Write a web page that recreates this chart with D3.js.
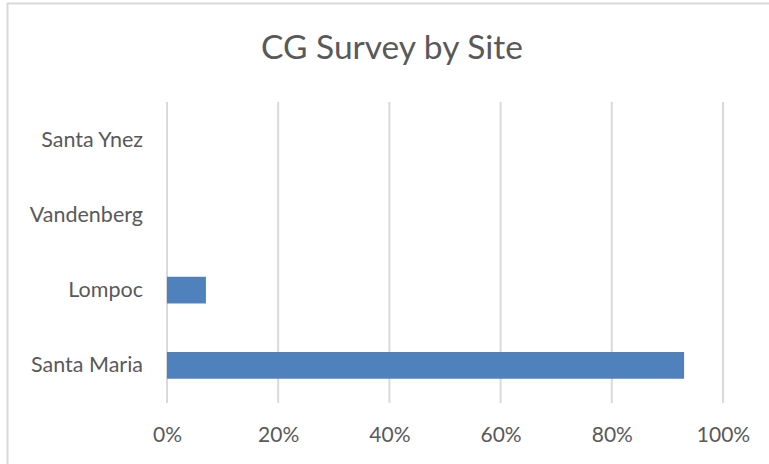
<!DOCTYPE html>
<html>
<head>
<meta charset="utf-8">
<script src="https://cdn.jsdelivr.net/npm/d3@7"></script>
<style>
  html, body { margin: 0; padding: 0; background: #fff; }
  svg { display: block; }
  text { font-family: Lato, "Open Sans", sans-serif; fill: #595959; }
</style>
</head>
<body>
<svg id="chart" width="769" height="464"></svg>
<script>
// Share of CG survey responses by site
const sites = ["Santa Ynez", "Vandenberg", "Lompoc", "Santa Maria"];
const shares = [0, 0, 0.07, 0.93];
const tickValues = [0, 0.2, 0.4, 0.6, 0.8, 1.0];
const title = "CG Survey by Site";

const svg = d3.select("#chart");
const W = 769, H = 464;
const plot = { left: 167, right: 723, top: 102, bottom: 403 };

// chart frame
svg.append("rect")
  .attr("x", 7.5).attr("y", 3.5)
  .attr("width", W + 20).attr("height", H + 20)
  .attr("fill", "#fff")
  .attr("stroke", "#d9d9d9").attr("stroke-width", 2);

svg.append("text")
  .attr("x", 392).attr("y", 59)
  .attr("text-anchor", "middle")
  .style("font-size", "33.5px")
  .text(title);

const x = d3.scaleLinear().domain([0, 1]).range([plot.left, plot.right]);
const y = d3.scaleBand().domain(sites)
  .range([plot.top, plot.bottom])
  .paddingInner(0.645).paddingOuter(0.3225);

// vertical gridlines
svg.append("g")
  .selectAll("line")
  .data(tickValues)
  .join("line")
  .attr("x1", d => x(d)).attr("x2", d => x(d))
  .attr("y1", plot.top).attr("y2", plot.bottom)
  .attr("stroke", "#d9d9d9").attr("stroke-width", 2);

// bars
svg.append("g")
  .selectAll("rect")
  .data(sites.map((s, i) => ({ site: s, v: shares[i] })))
  .join("rect")
  .attr("x", x(0))
  .attr("y", d => y(d.site))
  .attr("width", d => x(d.v) - x(0))
  .attr("height", y.bandwidth())
  .attr("fill", "#4f81bd");

// x axis labels
const xAxis = d3.axisBottom(x)
  .tickValues(tickValues)
  .tickFormat(d3.format(".0%"))
  .tickSize(0).tickPadding(24);
const gx = svg.append("g").attr("transform", `translate(0,${plot.bottom})`).call(xAxis);
gx.select(".domain").remove();
gx.selectAll("text").style("font-size", "21px").style("fill", "#595959").style("font-family", "Lato, sans-serif");

// y axis labels
const yAxis = d3.axisLeft(y).tickSize(0).tickPadding(24);
const gy = svg.append("g").attr("transform", `translate(${plot.left},0)`).call(yAxis);
gy.select(".domain").remove();
gy.selectAll("text").style("font-size", "21.5px").style("fill", "#595959").style("font-family", "Lato, sans-serif");
</script>
</body>
</html>
